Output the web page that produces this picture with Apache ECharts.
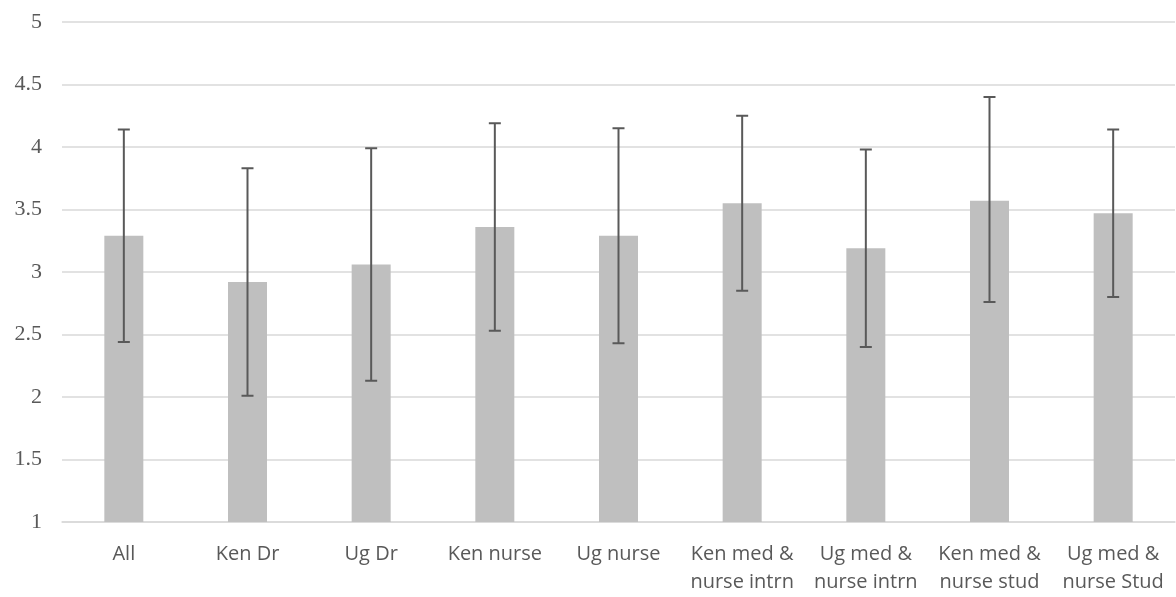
<!DOCTYPE html>
<html>
<head>
<meta charset="utf-8">
<script src="https://cdn.jsdelivr.net/npm/echarts@6/dist/echarts.min.js"></script>
<style>html,body{margin:0;padding:0;background:#fff}#chart{width:1176px;height:597px}</style>
</head>
<body>
<div id="chart"></div>
<script>
const categories = ['All', 'Ken Dr', 'Ug Dr', 'Ken nurse', 'Ug nurse', 'Ken med &\nnurse intrn', 'Ug med &\nnurse intrn', 'Ken med &\nnurse stud', 'Ug med &\nnurse Stud'];
const means = [3.29, 2.92, 3.06, 3.36, 3.29, 3.55, 3.19, 3.57, 3.47];
const errUpper = [4.14, 3.83, 3.99, 4.19, 4.15, 4.25, 3.98, 4.40, 4.14];
const errLower = [2.44, 2.01, 2.13, 2.53, 2.43, 2.85, 2.40, 2.76, 2.80];
const yTicks = [1, 1.5, 2, 2.5, 3, 3.5, 4, 4.5, 5];

const errData = categories.map((c, i) => [i, errLower[i], errUpper[i]]);

const chart = echarts.init(document.getElementById('chart'), null, {renderer: 'canvas'});
chart.setOption({
  animation: false,
  grid: {left: 62, right: 1, top: 22, bottom: 75, containLabel: false},
  xAxis: {
    type: 'category',
    data: categories,
    axisLine: {show: true, lineStyle: {color: '#D9D9D9', width: 1.5}},
    axisTick: {show: false},
    axisLabel: {
      interval: 0,
      color: '#595959',
      fontFamily: 'Open Sans',
      fontSize: 20,
      lineHeight: 28,
      margin: 18
    }
  },
  yAxis: {
    type: 'value',
    min: 1,
    max: 5,
    interval: 0.5,
    axisLine: {show: false},
    axisTick: {show: false},
    splitLine: {lineStyle: {color: '#D9D9D9', width: 1.5}},
    axisLabel: {
      color: '#595959',
      fontFamily: 'Liberation Serif',
      fontSize: 22,
      margin: 20,
      formatter: v => yTicks.includes(v) ? String(v) : ''
    }
  },
  series: [
    {
      type: 'bar',
      data: means,
      barWidth: 39,
      itemStyle: {color: '#BFBFBF'}
    },
    {
      type: 'custom',
      data: errData,
      z: 10,
      renderItem: function (params, api) {
        const x = api.value(0);
        const lo = api.coord([x, api.value(1)]);
        const hi = api.coord([x, api.value(2)]);
        const half = 6;
        const style = {stroke: '#595959', lineWidth: 2};
        return {
          type: 'group',
          children: [
            {type: 'line', shape: {x1: hi[0], y1: hi[1], x2: lo[0], y2: lo[1]}, style: style},
            {type: 'line', shape: {x1: hi[0] - half, y1: hi[1], x2: hi[0] + half, y2: hi[1]}, style: style},
            {type: 'line', shape: {x1: lo[0] - half, y1: lo[1], x2: lo[0] + half, y2: lo[1]}, style: style}
          ]
        };
      }
    }
  ]
});
</script>
</body>
</html>
